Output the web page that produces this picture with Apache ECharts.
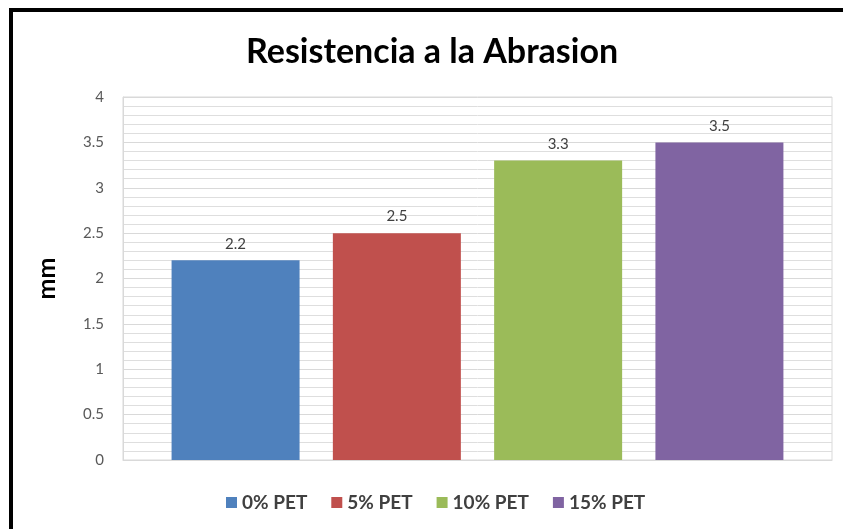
<!DOCTYPE html>
<html>
<head>
<meta charset="utf-8">
<script src="https://cdn.jsdelivr.net/npm/echarts@6/dist/echarts.min.js"></script>
<style>html,body{margin:0;padding:0;background:#fff}#c{width:843px;height:529px}</style>
</head>
<body>
<div id="c"></div>
<script>
const seriesNames = ['0% PET', '5% PET', '10% PET', '15% PET'];
const seriesValues = [2.2, 2.5, 3.3, 3.5];
const categories = [''];
const colors = ['#4f81bd', '#c0504d', '#9bbb59', '#8064a2'];

const chart = echarts.init(document.getElementById('c'));
const font = 'Lato, "Open Sans", sans-serif';
chart.setOption({
  animation: false,
  textStyle: { fontFamily: font },
  title: {
    text: 'Resistencia a la Abrasion',
    left: 241, top: 30,
    textStyle: { fontFamily: font, fontSize: 34, fontWeight: 'bold', color: '#000' }
  },
  legend: {
    bottom: 12, left: 221,
    itemWidth: 11, itemHeight: 11, itemGap: 24,
    icon: 'rect',
    textStyle: { fontFamily: font, fontSize: 19, fontWeight: 'bold', color: '#404040', padding: [0,0,0,0] },
    data: seriesNames
  },
  grid: { left: 123, right: 11, top: 97, bottom: 69, show: true, borderColor: '#d9d9d9', borderWidth: 1 },
  xAxis: {
    type: 'category', data: categories,
    axisLine: { show: true, lineStyle: { color: '#d9d9d9' } },
    axisTick: { show: false }, axisLabel: { show: false }
  },
  yAxis: {
    type: 'value', min: 0, max: 4, interval: 0.5,
    name: 'mm', nameLocation: 'middle', nameGap: 64, nameRotate: 90,
    nameTextStyle: { fontFamily: font, fontSize: 25, fontWeight: 'bold', color: '#000' },
    axisLine: { show: true, lineStyle: { color: '#d9d9d9' } },
    axisTick: { show: false },
    axisLabel: { fontSize: 15, color: '#595959', margin: 19 },
    splitLine: { lineStyle: { color: '#d9d9d9' } },
    minorTick: { show: false, splitNumber: 5 },
    minorSplitLine: { show: true, lineStyle: { color: '#dedede' } }
  },
  graphic: [
    { type: 'rect', shape: { x: 9, y: 8, width: 834, height: 4 }, style: { fill: '#000' } },
    { type: 'rect', shape: { x: 9, y: 8, width: 4, height: 521 }, style: { fill: '#000' } }
  ],
  series: seriesNames.map((n, i) => ({
    name: n, type: 'bar',
    data: [seriesValues[i]],
    barWidth: 128, barGap: '26%', barCategoryGap: '14%',
    itemStyle: { color: colors[i] },
    label: { show: true, position: 'top', distance: 9, fontSize: 15, color: '#404040', fontFamily: font }
  }))
});
</script>
</body>
</html>
